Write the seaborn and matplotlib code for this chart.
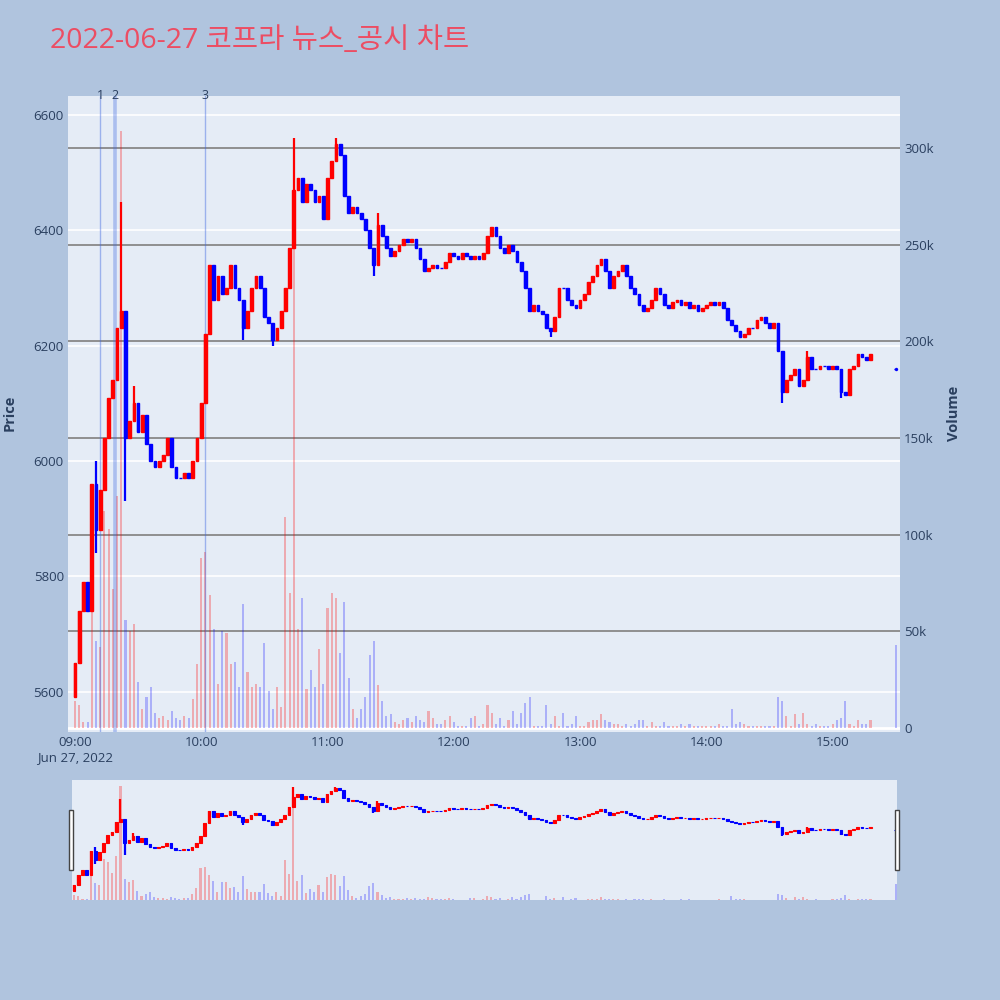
import numpy as np
import matplotlib
matplotlib.use("Agg")
import matplotlib.pyplot as plt
import seaborn as sns
from matplotlib.transforms import blended_transform_factory
from matplotlib.patches import Rectangle

# ---------------- data (2-minute candles, minutes after 09:00) ----------------
minutes = list(range(0, 380, 2)) + [390]
first_open = 5590
auction_open = 6160          # 15:30 closing auction candle (open == close)
close = [5650, 5740, 5790, 5740, 5960, 5880, 5950, 6040, 6110, 6140,
         6230, 6260, 6040, 6070, 6100, 6050, 6080, 6030, 6000, 5990,
         6000, 6010, 6040, 5990, 5970, 5970, 5980, 5970, 6000, 6040,
         6100, 6220, 6340, 6280, 6320, 6290, 6300, 6340, 6300, 6280,
         6230, 6260, 6300, 6320, 6300, 6250, 6240, 6210, 6230, 6260,
         6300, 6370, 6470, 6490, 6450, 6480, 6470, 6450, 6460, 6420,
         6490, 6520, 6550, 6530, 6460, 6430, 6440, 6430, 6420, 6400,
         6370, 6340, 6410, 6390, 6370, 6355, 6365, 6375, 6385, 6380,
         6385, 6370, 6350, 6330, 6335, 6340, 6335, 6335, 6345, 6360,
         6355, 6350, 6360, 6355, 6350, 6355, 6350, 6360, 6390, 6405,
         6390, 6370, 6360, 6375, 6365, 6345, 6330, 6300, 6260, 6270,
         6260, 6255, 6230, 6225, 6250, 6300, 6300, 6280, 6270, 6265,
         6280, 6290, 6310, 6320, 6340, 6350, 6330, 6300, 6320, 6330,
         6340, 6320, 6300, 6290, 6270, 6260, 6265, 6280, 6300, 6290,
         6270, 6265, 6275, 6280, 6270, 6275, 6265, 6270, 6260, 6265,
         6270, 6275, 6270, 6275, 6265, 6245, 6235, 6225, 6215, 6220,
         6230, 6230, 6245, 6250, 6240, 6230, 6240, 6190, 6120, 6140,
         6150, 6160, 6130, 6140, 6180, 6160, 6160, 6165, 6165, 6160,
         6165, 6160, 6120, 6115, 6160, 6165, 6185, 6180, 6175, 6185,
         6160]
volume_k = [14, 12, 3, 3, 102, 45, 42, 112, 103, 72,
            120, 309, 56, 50, 54, 24, 10, 16, 21, 8,
            5, 6, 4, 9, 5, 4, 6, 5, 15, 33,
            88, 91, 69, 51, 23, 50, 49, 33, 34, 21,
            64, 29, 21, 23, 21, 44, 19, 10, 21, 11,
            109, 70, 304, 51, 67, 20, 30, 21, 41, 23,
            62, 70, 67, 39, 65, 26, 10, 5, 10, 16,
            38, 45, 22, 14, 6, 7, 3, 2, 4, 5,
            3, 6, 4, 3, 9, 5, 2, 2, 4, 6,
            3, 1, 1, 1, 5, 6, 1, 2, 12, 8,
            2, 5, 1, 4, 9, 2, 8, 13, 16, 1,
            1, 1, 12, 2, 6, 1, 8, 1, 2, 6,
            1, 1, 3, 4, 4, 7, 4, 3, 2, 2,
            1, 2, 1, 2, 4, 4, 1, 3, 1, 1,
            3, 1, 1, 1, 2, 1, 2, 1, 1, 1,
            1, 1, 1, 2, 1, 1, 10, 2, 3, 2,
            1, 1, 1, 1, 1, 1, 1, 16, 14, 6,
            1, 7, 2, 8, 2, 1, 2, 1, 1, 1,
            2, 4, 5, 14, 2, 1, 4, 2, 2, 4,
            43]
high_t = [10, 22, 28, 104, 124, 144, 348]
high_v = [6000, 6450, 6130, 6560, 6560, 6430, 6190]
low_t = [10, 24, 80, 94, 142, 226, 336, 364]
low_v = [5840, 5930, 6210, 6200, 6320, 6215, 6100, 6110]
news_minutes = [12, 19, 62]
news_labels = ["1", "2", "3"]
price_ticks = [5600, 5800, 6000, 6200, 6400, 6600]
vol_ticks = [0, 50000, 100000, 150000, 200000, 250000, 300000]
vol_tick_labels = ["0", "50k", "100k", "150k", "200k", "250k", "300k"]
time_ticks = [0, 60, 120, 180, 240, 300, 360]
time_labels = ["09:00\nJun 27, 2022", "10:00", "11:00", "12:00", "13:00", "14:00", "15:00"]
title = "2022-06-27 코프라 뉴스_공시 차트"

# ---------------- derived ----------------
t = np.array(minutes, dtype=float)
c = np.array(close, dtype=float)
o = np.concatenate([[first_open], c[:-2], [auction_open]])
hi = np.maximum(o, c)
lo = np.minimum(o, c)
idx = {m: i for i, m in enumerate(minutes)}
for m, v in zip(high_t, high_v):
    hi[idx[m]] = max(hi[idx[m]], v)
for m, v in zip(low_t, low_v):
    lo[idx[m]] = min(lo[idx[m]], v)
vol = np.array(volume_k, dtype=float) * 1000
up = c > o
RED, BLUE = "#ff0000", "#0000ff"
cols = np.where(up, RED, BLUE)
vcols = [(1, 0, 0, 0.28) if u else (0, 0, 1, 0.25) for u in up]

# ---------------- style ----------------
sns.set_theme(style="white")
plt.rcParams["font.family"] = ["Open Sans", "Noto Sans CJK KR", "DejaVu Sans"]
TXT = "#2a3f5f"
BG = "#b0c4de"
PLOT_BG = "#e5ecf6"

fig = plt.figure(figsize=(10, 10), dpi=100, facecolor=BG)

def candles(ax, body_w, lw):
    ax.vlines(t, lo, hi, colors=cols, lw=1.6, zorder=3)
    h = c - o
    h = np.where(h == 0, 0.01, h)
    ax.bar(t, h, bottom=o, width=body_w, color=cols, edgecolor=cols,
           linewidth=lw, zorder=4)

# ---------------- main chart ----------------
ax_vol = fig.add_axes([0.068, 0.268, 0.832, 0.636])
ax = ax_vol.twinx()
ax_vol.set_facecolor(PLOT_BG)
ax.patch.set_visible(False)
for a in (ax, ax_vol):
    for s in a.spines.values():
        s.set_visible(False)

XMIN, XMAX = -3.3, 392
ax_vol.set_xlim(XMIN, XMAX)
ax.set_ylim(5530, 6633)
ax_vol.set_ylim(-2070, 326900)

# price grid (white) drawn on bottom axes behind bars
tr = blended_transform_factory(ax_vol.transAxes, ax.transData)
for p in price_ticks:
    ax_vol.plot([0, 1], [p, p], transform=tr, color="white", lw=1.2, zorder=0.5)
# volume grid (gray)
for v in vol_ticks[1:]:
    ax_vol.axhline(v, color="#888888", lw=1.3, zorder=0.6)
ax_vol.axhline(0, color="white", lw=2, zorder=0.7)

ax_vol.bar(t, vol, width=1.0, color=vcols, linewidth=0, zorder=2)

# news lines
for m, lab in zip(news_minutes, news_labels):
    lw = 2.6 if lab == "2" else 1.0
    al = 0.35 if lab == "2" else 0.45
    ax.axvline(m, color="royalblue", lw=lw, alpha=al, zorder=1)
    ax.text(m, 1.001, lab, transform=blended_transform_factory(ax.transData, ax.transAxes),
            ha="center", va="center", fontsize=9, color=TXT)

candles(ax, 1.3, 1.0)
sns.scatterplot(x=[t[-1]], y=[c[-1]], ax=ax, color=BLUE, s=5, edgecolor=BLUE, zorder=5)

# axes cosmetics
ax.yaxis.tick_left()
ax_vol.yaxis.tick_right()
ax.set_yticks(price_ticks)
ax.set_yticklabels([str(p) for p in price_ticks])
ax_vol.set_yticks(vol_ticks)
ax_vol.set_yticklabels(vol_tick_labels)
ax_vol.set_xticks(time_ticks)
ax_vol.set_xticklabels(time_labels, linespacing=1.2)
for a in (ax, ax_vol):
    a.tick_params(length=0, labelsize=9.5, labelcolor=TXT, pad=3)
    a.grid(False)
ax_vol.tick_params(axis="x", pad=3)
ax.set_ylabel("")
ax_vol.set_ylabel("")
ax.set_xlabel("")
ax_vol.set_xlabel("")

fig.text(0.010, 0.587, "Price", rotation=90, ha="center", va="center",
         fontsize=10.5, fontweight="bold", color=TXT)
fig.text(0.954, 0.587, "Volume", rotation=90, ha="center", va="center",
         fontsize=10.5, fontweight="bold", color=TXT)
fig.text(0.050, 0.959, title, ha="left", va="center", fontsize=20.5,
         color="#ec4d63")

# ---------------- range slider ----------------
sv = fig.add_axes([0.072, 0.100, 0.825, 0.120])
sp = sv.twinx()
sv.set_facecolor(PLOT_BG)
sp.patch.set_visible(False)
for a in (sv, sp):
    for s in a.spines.values():
        s.set_visible(False)
    a.grid(False)
sv.set_xlim(-1, 390.6)
sv.set_ylim(0, 326000)
sp.set_ylim(5506, 6625)
sv.bar(t, vol, width=1.0, color=vcols, linewidth=0, zorder=2)
candles(sp, 1.3, 0.8)
sv.set_xticks([])
sv.set_yticks([])
sp.set_yticks([])

for hx in (0.069, 0.895):
    fig.patches.append(Rectangle((hx, 0.130), 0.004, 0.060, transform=fig.transFigure,
                                 facecolor="white", edgecolor="#444444", lw=1))

fig.savefig("out.png", dpi=100, facecolor=BG)
